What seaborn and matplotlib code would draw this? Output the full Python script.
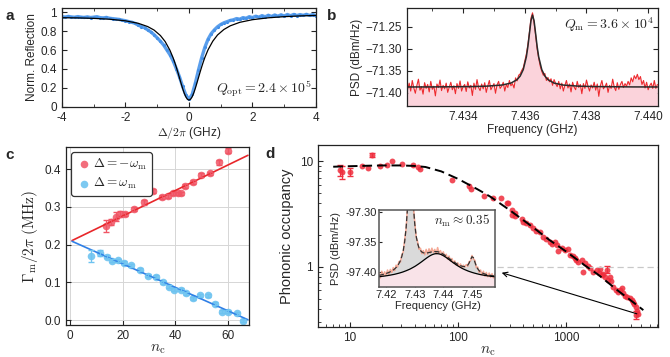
import numpy as np
import matplotlib
matplotlib.use("Agg")
import matplotlib.pyplot as plt
import seaborn as sns
from matplotlib.ticker import NullFormatter, FixedLocator, LogLocator

# ---------------- data ----------------
# (a) optical reflection vs detuning
a_det = np.linspace(-4, 4, 81)
a_refl = [0.955, 0.951, 0.958, 0.952, 0.949, 0.956, 0.950, 0.947, 0.953, 0.946,
          0.950, 0.955, 0.945, 0.942, 0.947, 0.938, 0.934, 0.930, 0.926, 0.918,
          0.912, 0.903, 0.896, 0.884, 0.866, 0.850, 0.838, 0.815, 0.793, 0.764,
          0.730, 0.695, 0.655, 0.603, 0.552, 0.487, 0.405, 0.318, 0.215, 0.125,
          0.080, 0.130, 0.250, 0.390, 0.520, 0.630, 0.715, 0.775, 0.815, 0.848,
          0.872, 0.890, 0.902, 0.915, 0.922, 0.935, 0.928, 0.945, 0.938, 0.955,
          0.945, 0.960, 0.950, 0.966, 0.954, 0.970, 0.957, 0.973, 0.960, 0.975,
          0.962, 0.978, 0.965, 0.979, 0.967, 0.977, 0.969, 0.980, 0.968, 0.978,
          0.965]
a_fit_det = [-4, -3.5, -3, -2.5, -2, -1.6, -1.3, -1.1, -0.9, -0.75, -0.6, -0.5, -0.45, -0.4, -0.35,
             -0.3, -0.25, -0.2, -0.15, -0.1, -0.05, 0, 0.05, 0.1, 0.15, 0.2, 0.25, 0.3, 0.35, 0.4,
             0.45, 0.5, 0.6, 0.75, 0.9, 1.1, 1.3, 1.6, 2, 2.5, 3, 3.5, 4]
a_fit = [0.944, 0.942, 0.937, 0.928, 0.911, 0.885, 0.850, 0.813, 0.755, 0.691, 0.599, 0.519, 0.472, 0.420, 0.365,
         0.307, 0.249, 0.193, 0.144, 0.105, 0.079, 0.070, 0.079, 0.105, 0.145, 0.195, 0.251, 0.309, 0.367, 0.422,
         0.474, 0.522, 0.603, 0.695, 0.761, 0.819, 0.858, 0.895, 0.923, 0.943, 0.955, 0.963, 0.968]

# (b) mechanical PSD
b_freq = np.linspace(7.4322, 7.4403, 163)
b_psd = [-71.392, -71.378, -71.396, -71.372, -71.389, -71.401, -71.383, -71.369, -71.394, -71.386,
         -71.403, -71.377, -71.390, -71.381, -71.398, -71.374, -71.392, -71.385, -71.407, -71.380,
         -71.388, -71.371, -71.395, -71.383, -71.391, -71.378, -71.399, -71.387, -71.376, -71.393,
         -71.384, -71.402, -71.379, -71.390, -71.373, -71.396, -71.386, -71.381, -71.397, -71.375,
         -71.389, -71.383, -71.406, -71.378, -71.392, -71.370, -71.388, -71.395, -71.380, -71.391,
         -71.377, -71.399, -71.384, -71.372, -71.393, -71.386, -71.379, -71.401, -71.382, -71.374,
         -71.390, -71.385, -71.376, -71.396, -71.381, -71.388, -71.372, -71.384, -71.379, -71.389,
         -71.366, -71.373, -71.360, -71.357, -71.349, -71.343, -71.328, -71.312, -71.290, -71.262,
         -71.230, -71.218, -71.240, -71.268, -71.300, -71.321, -71.339, -71.351, -71.360, -71.356,
         -71.372, -71.365, -71.375, -71.368, -71.383, -71.370, -71.379, -71.386, -71.374, -71.391,
         -71.378, -71.396, -71.383, -71.372, -71.389, -71.380, -71.398, -71.376, -71.387, -71.393,
         -71.374, -71.388, -71.381, -71.402, -71.379, -71.390, -71.371, -71.385, -71.396, -71.382,
         -71.389, -71.376, -71.394, -71.380, -71.408, -71.384, -71.372, -71.391, -71.386, -71.378,
         -71.399, -71.383, -71.390, -71.369, -71.387, -71.395, -71.377, -71.392, -71.381, -71.374,
         -71.388, -71.379, -71.385, -71.374, -71.382, -71.366, -71.375, -71.361, -71.368, -71.358,
         -71.370, -71.363, -71.381, -71.372, -71.389, -71.376, -71.393, -71.384, -71.378, -71.390,
         -71.372, -71.390, -71.381]
b_fit_freq = [7.4322, 7.4330, 7.4343, 7.43475, 7.43525, 7.43555, 7.43575, 7.43585, 7.43595, 7.43605,
              7.4361, 7.43615, 7.4362, 7.43625, 7.4363, 7.43635, 7.4364, 7.43645, 7.43655, 7.43665,
              7.43675, 7.43695, 7.43725, 7.43775, 7.43825, 7.4395, 7.4403]
b_fit_psd = [-71.3867, -71.3866, -71.3858, -71.3849, -71.3824, -71.3779, -71.3700, -71.3619, -71.3471, -71.3182,
             -71.2947, -71.2651, -71.2360, -71.2230, -71.2360, -71.2651, -71.2947, -71.3182, -71.3471, -71.3619,
             -71.3700, -71.3779, -71.3824, -71.3849, -71.3858, -71.3866, -71.3867]

# (c) mechanical linewidth vs intracavity photons
c_red_nc = [13.5, 15.7, 17.6, 18.9, 20.8, 24.3, 28.0, 31.5, 34.9, 37.2, 39.1, 40.8, 42.0, 43.5, 46.7,
            49.6, 53.0, 56.5, 60.0]
c_red_g = [0.250, 0.261, 0.274, 0.281, 0.281, 0.295, 0.312, 0.342, 0.327, 0.329, 0.336, 0.336, 0.336,
           0.356, 0.367, 0.385, 0.389, 0.418, 0.449]
c_red_err = [0.016, 0.008, 0.012, 0.008, 0.006, 0.006, 0.006, 0.006, 0.005, 0.005, 0.005, 0.005, 0.005,
             0.005, 0.005, 0.005, 0.005, 0.006, 0.007]
c_blue_nc = [8.1, 11.3, 14.2, 16.1, 18.2, 20.4, 23.3, 26.5, 29.6, 32.8, 35.3, 37.6, 39.5, 42.0, 44.2,
             46.5, 49.2, 52.2, 54.9, 57.5, 60.0, 63.2, 65.7]
c_blue_g = [0.170, 0.179, 0.168, 0.158, 0.159, 0.152, 0.146, 0.133, 0.117, 0.115, 0.100, 0.088, 0.081,
            0.081, 0.071, 0.058, 0.066, 0.066, 0.044, 0.022, 0.022, 0.018, -0.002]
c_blue_err = [0.016, 0.008, 0.004, 0.004, 0.004, 0.004, 0.004, 0.004, 0.004, 0.004, 0.004, 0.004, 0.004,
              0.004, 0.004, 0.004, 0.004, 0.004, 0.004, 0.004, 0.004, 0.004, 0.004]
c_fit_nc = [0.8, 67.5]
c_fit_red = [0.211, 0.437]
c_fit_blue = [0.209, 0.001]

# (d) phonon occupancy vs intracavity photons
d_nc = [8.1, 8.5, 10.1, 12.8, 14.8, 15.9, 19.0, 21.9, 24.3, 30.5, 38.5, 42.8, 44.4, 87.5, 126,
        131, 174, 212, 252, 282, 292, 314, 318, 337, 340, 389, 403, 430, 465, 498,
        530, 574, 617, 660, 711, 740, 791, 820, 849, 912, 978, 1050, 1089, 1150, 1211,
        1250, 1300, 1404, 1446, 1500, 1600, 1667, 1790, 1923, 2000, 2066, 2140, 2200, 2296, 2380,
        2450, 2552, 2590, 2740, 2904, 3060, 3150, 3280, 3400, 3516, 3700, 3914, 4060, 4150, 4266,
        4420, 4460, 4530, 4630]
d_n = [8.2, 7.9, 7.9, 9.0, 8.65, 11.4, 9.0, 9.17, 10.0, 9.3, 9.17, 8.8, 8.4, 6.7, 5.8,
       5.5, 4.7, 4.45, 4.5, 3.98, 3.99, 3.45, 3.08, 3.25, 3.0, 2.82, 2.67, 2.6, 2.49, 2.32,
       2.2, 2.15, 1.93, 1.85, 1.73, 1.65, 1.73, 1.61, 1.40, 1.50, 1.45, 1.47, 1.30, 1.28, 1.21,
       1.15, 1.12, 1.16, 0.90, 1.08, 1.02, 0.97, 0.90, 0.94, 0.88, 0.95, 0.84, 0.86, 0.80, 0.94,
       0.75, 0.81, 0.74, 0.65, 0.60, 0.58, 0.60, 0.63, 0.565, 0.53, 0.52, 0.51, 0.49, 0.47, 0.45,
       0.35, 0.42, 0.38, 0.36]
d_bar_nc = [8.1, 8.5, 10.1, 15.9, 2380, 4420]
d_bar_n = [8.2, 7.9, 7.9, 11.4, 0.94, 0.35]
d_bar_err = [0.9, 1.1, 0.7, 0.5, 0.07, 0.03]
d_fit_nc = [7, 10, 15, 20, 30, 40, 50, 70, 100, 150, 174, 200, 300, 500, 700, 1000, 1500, 2000, 3000, 4000, 5200]
d_fit_n = [8.85, 8.95, 9.05, 9.1, 9.1, 9.0, 8.8, 8.0, 6.8, 5.45, 5.0, 4.6, 3.45, 2.35, 1.8, 1.4, 1.03, 0.84, 0.6, 0.48, 0.39]

# (d inset) sideband spectrum
in_freq = np.linspace(7.4175, 7.4580, 82)
in_psd = [-97.401, -97.409, -97.398, -97.406, -97.399, -97.405, -97.396, -97.403, -97.395, -97.400,
          -97.392, -97.397, -97.388, -97.391, -97.382, -97.383, -97.371, -97.366, -97.346, -97.328,
          -97.290, -97.250, -97.232, -97.246, -97.290, -97.316, -97.342, -97.349, -97.362, -97.360,
          -97.369, -97.364, -97.371, -97.362, -97.370, -97.361, -97.368, -97.360, -97.367, -97.362,
          -97.369, -97.359, -97.368, -97.364, -97.371, -97.366, -97.374, -97.370, -97.378, -97.373,
          -97.381, -97.377, -97.384, -97.381, -97.388, -97.384, -97.390, -97.386, -97.392, -97.388,
          -97.391, -97.387, -97.390, -97.382, -97.381, -97.372, -97.378, -97.380, -97.392, -97.391,
          -97.400, -97.396, -97.404, -97.398, -97.406, -97.400, -97.407, -97.401, -97.408, -97.402,
          -97.409, -97.403]
in_fit_total = [-97.4048, -97.4043, -97.4038, -97.4032, -97.4025, -97.4018, -97.4009, -97.4000, -97.3989, -97.3976,
                -97.3961, -97.3942, -97.3920, -97.3891, -97.3854, -97.3805, -97.3737, -97.3639, -97.3491, -97.3264,
                -97.2926, -97.2515, -97.2291, -97.2491, -97.2879, -97.3194, -97.3397, -97.3520, -97.3594, -97.3638,
                -97.3663, -97.3676, -97.3681, -97.3680, -97.3677, -97.3672, -97.3666, -97.3661, -97.3657, -97.3656,
                -97.3657, -97.3658, -97.3664, -97.3673, -97.3685, -97.3700, -97.3715, -97.3732, -97.3750, -97.3768,
                -97.3786, -97.3803, -97.3819, -97.3837, -97.3852, -97.3866, -97.3879, -97.3889, -97.3897, -97.3903,
                -97.3903, -97.3897, -97.3881, -97.3846, -97.3791, -97.3740, -97.3756, -97.3827, -97.3894, -97.3940,
                -97.3970, -97.3991, -97.4006, -97.4017, -97.4026, -97.4034, -97.4040, -97.4045, -97.4049, -97.4052,
                -97.4056, -97.4058]
in_fit_mech = [-97.4070, -97.4068, -97.4065, -97.4062, -97.4059, -97.4055, -97.4052, -97.4048, -97.4044, -97.4039,
               -97.4035, -97.4030, -97.4024, -97.4018, -97.4012, -97.4005, -97.3998, -97.3990, -97.3981, -97.3972,
               -97.3962, -97.3952, -97.3941, -97.3928, -97.3915, -97.3902, -97.3887, -97.3871, -97.3855, -97.3838,
               -97.3821, -97.3803, -97.3785, -97.3768, -97.3751, -97.3735, -97.3721, -97.3709, -97.3700, -97.3693,
               -97.3690, -97.3691, -97.3694, -97.3701, -97.3711, -97.3724, -97.3738, -97.3754, -97.3771, -97.3789,
               -97.3807, -97.3824, -97.3842, -97.3858, -97.3874, -97.3890, -97.3904, -97.3918, -97.3931, -97.3943,
               -97.3954, -97.3964, -97.3974, -97.3983, -97.3991, -97.3999, -97.4006, -97.4013, -97.4019, -97.4025,
               -97.4031, -97.4036, -97.4040, -97.4045, -97.4049, -97.4053, -97.4056, -97.4059, -97.4063, -97.4066,
               -97.4068, -97.4071]

# ---------------- style ----------------
sns.set_style("ticks")
plt.rcParams.update({
    "font.family": ["Liberation Sans", "DejaVu Sans"],
    "mathtext.fontset": "cm",
    "font.size": 8.5,
    "axes.unicode_minus": False,
    "axes.linewidth": 0.9,
    "axes.edgecolor": "#222222",
    "xtick.direction": "in",
    "ytick.direction": "in",
    "xtick.major.size": 3.5,
    "ytick.major.size": 3.5,
    "xtick.minor.size": 2,
    "ytick.minor.size": 2,
    "xtick.labelsize": 8.5,
    "ytick.labelsize": 8.5,
    "axes.labelsize": 8.5,
})

fig = plt.figure(figsize=(6.7, 3.57), dpi=100)

# ---------------- panel a ----------------
ax_a = fig.add_axes([0.0925, 0.7003, 0.3791, 0.2773])
sns.lineplot(x=a_det, y=a_refl, ax=ax_a, color="#4a95ea", lw=2.4, alpha=0.9)
sns.scatterplot(x=a_det, y=a_refl, ax=ax_a, color="#2f82e4", s=5, linewidth=0)
sns.lineplot(x=a_fit_det, y=a_fit, ax=ax_a, color="black", lw=0.9)
ax_a.set_xlim(-4, 4)
ax_a.set_ylim(-0.003, 1.047)
ax_a.set_xticks([-4, -2, 0, 2, 4])
ax_a.xaxis.set_minor_locator(FixedLocator([-3, -1, 1, 3]))
ax_a.set_yticks([0, 0.2, 0.4, 0.6, 0.8, 1.0], labels=["0", "0.2", "0.4", "0.6", "0.8", "1"])
ax_a.tick_params(which="both", top=True, right=True)
ax_a.set_xlabel(r"$\Delta/2\pi$ (GHz)", labelpad=1)
ax_a.set_ylabel("Norm. Reflection", labelpad=2)
ax_a.text(0.985, 0.18, r"$Q_\mathrm{opt} = 2.4\times10^5$", transform=ax_a.transAxes,
          ha="right", va="center", fontsize=10)

# ---------------- panel b ----------------
ax_b = fig.add_axes([0.6075, 0.7031, 0.3746, 0.2745])
b_ylim = (-71.43, -71.207)
ax_b.fill_between(b_freq, b_ylim[0], b_psd, color="#fbd3db", lw=0)
sns.lineplot(x=b_freq, y=b_psd, ax=ax_b, color="#ee2b2f", lw=0.8)
sns.lineplot(x=b_fit_freq, y=b_fit_psd, ax=ax_b, color="#2a2a2a", lw=1.1)
ax_b.set_xlim(7.43218, 7.44032)
ax_b.set_ylim(*b_ylim)
b_xt = [7.434, 7.436, 7.438, 7.440]
ax_b.set_xticks(b_xt, labels=[f"{v:.3f}" for v in b_xt])
ax_b.xaxis.set_minor_locator(FixedLocator([7.433, 7.435, 7.437, 7.439]))
b_yt = [-71.40, -71.35, -71.30, -71.25]
ax_b.set_yticks(b_yt, labels=[f"{v:.2f}".replace("-", "\u2212") for v in b_yt])
ax_b.tick_params(which="both", top=True, right=True)
ax_b.set_xlabel("Frequency (GHz)", labelpad=1)
ax_b.set_ylabel("PSD (dBm/Hz)", labelpad=2)
ax_b.text(0.985, 0.83, r"$Q_\mathrm{m} = 3.6\times10^4$", transform=ax_b.transAxes,
          ha="right", va="center", fontsize=10)

# ---------------- panel c ----------------
ax_c = fig.add_axes([0.0985, 0.0896, 0.2731, 0.4986])
red_pt, red_ln = "#f05565", "#e8262a"
blue_pt, blue_ln = "#6ec3f0", "#2f7fe6"
ax_c.grid(True, color="#d6d6d6", lw=0.7)
ax_c.set_axisbelow(True)
sns.lineplot(x=c_fit_nc, y=c_fit_red, ax=ax_c, color=red_ln, lw=1.2)
sns.lineplot(x=c_fit_nc, y=c_fit_blue, ax=ax_c, color=blue_ln, lw=1.2)
ax_c.errorbar(c_red_nc, c_red_g, yerr=c_red_err, fmt="none", ecolor=red_pt, elinewidth=0.9, capsize=2)
ax_c.errorbar(c_blue_nc, c_blue_g, yerr=c_blue_err, fmt="none", ecolor=blue_pt, elinewidth=0.9, capsize=2)
sns.scatterplot(x=c_red_nc, y=c_red_g, ax=ax_c, color=red_pt, s=30, alpha=0.85, linewidth=0,
                label=r"$\Delta=-\omega_\mathrm{m}$")
sns.scatterplot(x=c_blue_nc, y=c_blue_g, ax=ax_c, color=blue_pt, s=30, alpha=0.9, linewidth=0,
                label=r"$\Delta=\omega_\mathrm{m}$")
ax_c.set_xlim(-1.5, 67.9)
ax_c.set_ylim(-0.013, 0.459)
ax_c.set_xticks([0, 20, 40, 60])
ax_c.set_yticks([0, 0.1, 0.2, 0.3, 0.4], labels=["0.0", "0.1", "0.2", "0.3", "0.4"])
ax_c.set_xlabel(r"$n_\mathrm{c}$", fontsize=11, labelpad=0)
ax_c.set_ylabel(r"$\Gamma_\mathrm{m}/2\pi\ (\mathrm{MHz})$", fontsize=11, labelpad=3)
leg = ax_c.legend(loc="upper left", fontsize=9.5, frameon=True, fancybox=True, framealpha=1,
                  edgecolor="#333333", handletextpad=0.1, borderpad=0.35, labelspacing=0.3,
                  borderaxespad=0.4, handlelength=1.2)
leg.get_frame().set_linewidth(0.9)

# ---------------- panel d ----------------
ax_d = fig.add_axes([0.4746, 0.0840, 0.5075, 0.5098])
ax_d.set_xscale("log")
ax_d.set_yscale("log")
ax_d.hlines(1, 230, 7110, colors="#c8c8c8", linestyles=(0, (5, 3)), lw=0.9)
ax_d.errorbar(d_bar_nc, d_bar_n, yerr=d_bar_err, fmt="none", ecolor="#ef3040", elinewidth=0.9, capsize=2)
sns.scatterplot(x=d_nc, y=d_n, ax=ax_d, color="#ef2d3c", s=18, alpha=0.85, linewidth=0)
sns.lineplot(x=d_fit_nc, y=d_fit_n, ax=ax_d, color="black", lw=1.4, dashes=False)
ax_d.lines[-1].set_linestyle((0, (5, 2.5)))
ax_d.set_xlim(5.06, 7110)
ax_d.set_ylim(0.27, 14.2)
ax_d.set_xticks([10, 100, 1000], labels=["10", "100", "1000"])
ax_d.set_yticks([1, 10], labels=["1", "10"])
ax_d.xaxis.set_minor_locator(LogLocator(base=10, subs=np.arange(2, 10)))
ax_d.yaxis.set_minor_locator(LogLocator(base=10, subs=np.arange(2, 10)))
ax_d.xaxis.set_minor_formatter(NullFormatter())
ax_d.yaxis.set_minor_formatter(NullFormatter())
ax_d.set_xlabel(r"$n_\mathrm{c}$", fontsize=11, labelpad=0)
ax_d.set_ylabel("Phononic occupancy", fontsize=10.5, labelpad=4)
ax_d.annotate("", xy=(254, 0.88), xytext=(4530, 0.36),
              arrowprops=dict(arrowstyle="->", color="black", lw=0.8, shrinkA=0, shrinkB=0))

# inset
ax_in = fig.add_axes([0.5664, 0.1961, 0.1731, 0.2157])
in_ylim = (-97.424, -97.297)
ax_in.fill_between(in_freq, in_ylim[0], in_fit_mech, color="#f9e3e8", lw=0)
ax_in.fill_between(in_freq, in_fit_mech, in_fit_total, color="#dadada", lw=0)
sns.lineplot(x=in_freq, y=in_psd, ax=ax_in, color="#f39a84", lw=1.1, alpha=0.85)
sns.lineplot(x=in_freq, y=in_fit_total, ax=ax_in, color="#333333", lw=0.9)
ax_in.lines[-1].set_linestyle((0, (4, 2)))
sns.lineplot(x=in_freq, y=in_fit_mech, ax=ax_in, color="black", lw=0.9)
ax_in.set_xlim(7.4177, 7.4582)
ax_in.set_ylim(*in_ylim)
in_xt = [7.42, 7.43, 7.44, 7.45]
ax_in.set_xticks(in_xt, labels=[f"{v:.2f}" for v in in_xt])
in_yt = [-97.40, -97.35, -97.30]
ax_in.set_yticks(in_yt, labels=[f"{v:.2f}" for v in in_yt])
ax_in.tick_params(labelsize=8, length=2.5, pad=2)
ax_in.set_xlabel("Frequency (GHz)", fontsize=8, labelpad=1)
ax_in.set_ylabel("PSD (dBm/Hz)", fontsize=8, labelpad=3)
for sp in ax_in.spines.values():
    sp.set_color("#555555")
    sp.set_linewidth(1.1)
ax_in.text(0.95, 0.86, r"$n_\mathrm{m}\approx 0.35$", transform=ax_in.transAxes,
           ha="right", va="center", fontsize=9.5)

# panel letters
for lab, (x, y) in {"a": (0.008, 0.975), "b": (0.488, 0.975),
                    "c": (0.008, 0.585), "d": (0.396, 0.588)}.items():
    fig.text(x, y, lab, fontsize=11, fontweight="bold", ha="left", va="top")

fig.savefig("out.png", dpi=100)
